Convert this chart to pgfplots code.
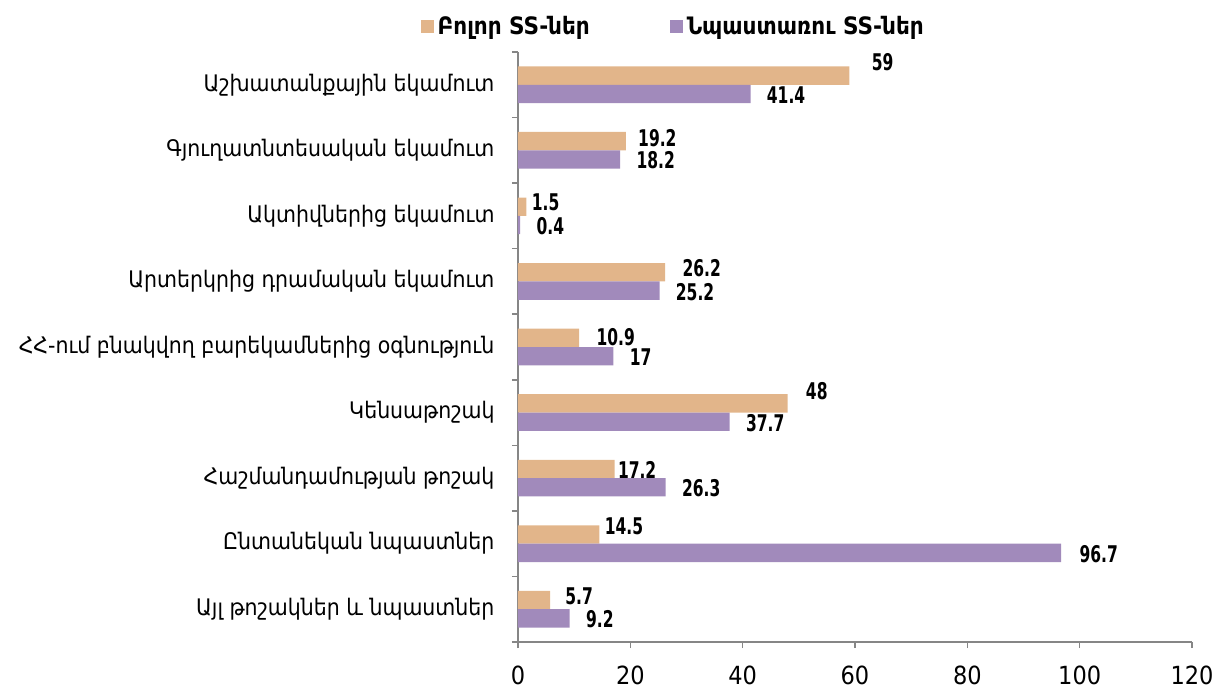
\documentclass[border=0pt]{standalone}
\usepackage{pgfplots}
\pgfplotsset{compat=1.18}
\usepackage{pgfplotstable}
\usepackage{fontspec}
\setmainfont{DejaVu Sans Condensed}
\newfontfamily\numfont[FakeStretch=0.75]{DejaVu Sans Condensed}
\definecolor{cor}{HTML}{E2B58A}
\definecolor{cpu}{HTML}{A18ABB}
\definecolor{axgray}{HTML}{868686}

% y: category position (8 = top), x: value, dx/dy: label offsets (pt)
\pgfplotstableread{
y x lab dx dy
8 59   59   11  11.1
7 19.2 19.2 6   6.1
6 1.5  1.5  2.5 6.6
5 26.2 26.2 8.5 6.6
4 10.9 10.9 8.5 5.1
3 48   48   9   10.6
2 17.2 17.2 1.5 4.1
1 14.5 14.5 2.5 8.6
0 5.7  5.7  7.5 6.6
}\orangedata
\pgfplotstableread{
y x lab dx dy
8 41.4 41.4 8 -5.1
7 18.2 18.2 8 -5.1
6 0.4  0.4  8 -5.1
5 25.2 25.2 8 -5.1
4 17   17   8 -5.1
3 37.7 37.7 8 -5.1
2 26.3 26.3 8 -5.1
1 96.7 96.7 9 -5.1
0 9.2  9.2  8 -5.1
}\purpledata

\begin{document}
\begin{tikzpicture}
\path[use as bounding box] (-259pt,-24.5pt) rectangle (353.5pt,321pt);
\begin{axis}[
  at={(0,0)}, anchor=south west,
  width=337pt, height=295pt, scale only axis,
  xmin=0, xmax=120, ymin=-0.5, ymax=8.5,
  xtick={0,20,...,120},
  ytick={-0.5,0.5,...,8.5},
  yticklabels={},
  extra y ticks={0,1,2,3,4,5,6,7,8},
  extra y tick labels={Այլ թոշակներ և նպաստներ,Ընտանեկան նպաստներ,Հաշմանդամության թոշակ,Կենսաթոշակ,ՀՀ-ում բնակվող բարեկամներից օգնություն,Արտերկրից դրամական եկամուտ,Ակտիվներից եկամուտ,Գյուղատնտեսական եկամուտ,Աշխատանքային եկամուտ},
  extra y tick style={major tick length=0pt, tick style={draw=none}},
  tick align=outside,
  major tick length=3pt,
  tick style={axgray, line width=0.8pt},
  axis x line*=bottom, axis y line*=left,
  axis line style={axgray, line width=0.8pt},
  x tick label style={font=\fontsize{12.5}{14}\selectfont, /pgf/number format/assume math mode=true},
  y tick label style={font=\fontsize{11.4}{13}\selectfont, anchor=east, inner sep=0pt, xshift=-11.5pt},
  xticklabel style={yshift=-5.5pt},
  legend style={at={(-0.145,1.043)}, anchor=west, draw=none, fill=none, inner sep=0pt,
    legend columns=2, font=\bfseries\fontsize{12}{14}\selectfont,
    /tikz/every even column/.append style={column sep=38pt}},
  legend image code/.code={\fill[#1] (0pt,-3.25pt) rectangle (6.5pt,3.25pt);},
  clip=false,
]
\addplot[xbar, bar width=0.28, bar shift=0.14, fill=cor, draw=none,
  point meta=explicit symbolic,
  visualization depends on={\thisrow{dx} \as \dx},
  visualization depends on={\thisrow{dy} \as \dy},
  nodes near coords,
  every node near coord/.append style={anchor=west, inner sep=0pt, xshift=\dx pt, yshift=\dy pt, font=\numfont\bfseries\fontsize{11.5}{13}\selectfont, text=black}]
  table[x=x, y=y, meta=lab]{\orangedata};
\addlegendentry{Բոլոր SS-ներ}
\addplot[xbar, bar width=0.28, bar shift=-0.14, fill=cpu, draw=none,
  point meta=explicit symbolic,
  visualization depends on={\thisrow{dx} \as \dx},
  visualization depends on={\thisrow{dy} \as \dy},
  nodes near coords,
  every node near coord/.append style={anchor=west, inner sep=0pt, xshift=\dx pt, yshift=\dy pt, font=\numfont\bfseries\fontsize{11.5}{13}\selectfont, text=black}]
  table[x=x, y=y, meta=lab]{\purpledata};
\addlegendentry{Նպաստառու SS-ներ}
\end{axis}
\end{tikzpicture}
\end{document}
